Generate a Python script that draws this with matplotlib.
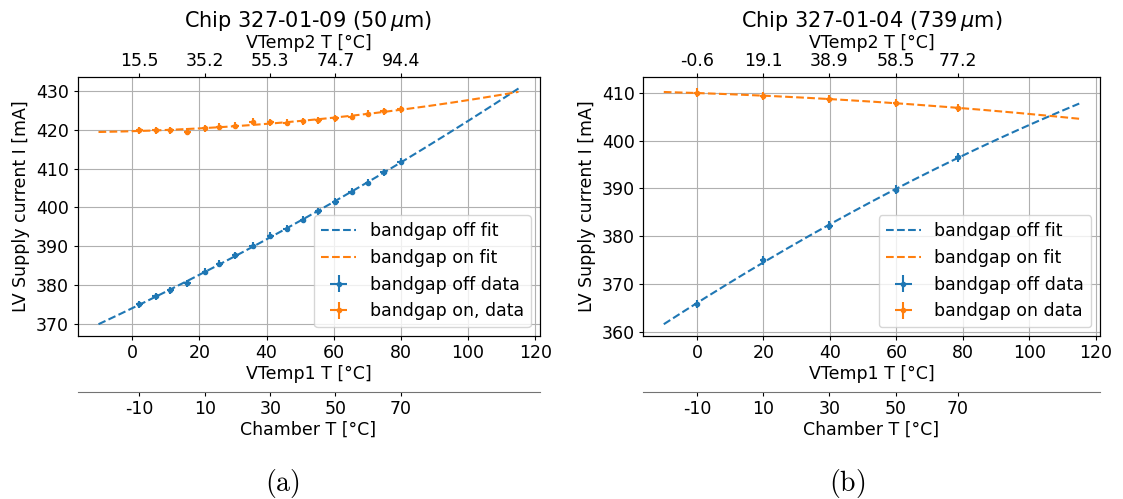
import numpy as np
import matplotlib
matplotlib.use("Agg")
import matplotlib.pyplot as plt

plt.rcParams['font.size'] = 12.5

# Chip 327-01-09 (50 um): VTemp1 [degC] and LV supply current [mA]
vtemp1_a = [2.1, 7.0, 11.4, 16.4, 21.7, 26.0, 30.7, 35.9, 41.1,
            46.0, 50.9, 55.4, 60.5, 65.4, 70.2, 74.9, 79.9]
bg_off_a = [375.0, 377.0, 378.6, 380.4, 383.4, 385.4, 387.7, 390.1, 392.7,
            394.5, 396.8, 399.0, 401.5, 404.0, 406.4, 409.1, 411.8]
bg_on_a = [420.0, 419.9, 419.9, 419.6, 420.5, 420.9, 421.1, 422.1, 422.0,
           421.9, 422.3, 422.5, 423.0, 423.4, 424.2, 424.9, 425.4]
vtemp2_labels_a = ['15.5', '35.2', '55.3', '74.7', '94.4']
tick_idx_a = [0, 4, 8, 12, 16]

# Chip 327-01-04 (739 um)
vtemp1_b = [0.0, 19.9, 39.8, 59.9, 78.5]
bg_off_b = [365.8, 374.9, 382.2, 389.7, 396.5]
bg_on_b = [410.0, 409.3, 408.7, 407.9, 406.8]
vtemp2_labels_b = ['-0.6', '19.1', '38.9', '58.5', '77.2']
tick_idx_b = [0, 1, 2, 3, 4]

chamber_labels = ['-10', '10', '30', '50', '70']
xerr = 1.0
yerr = 0.9
fit_range = (-10, 115)


def draw_panel(ax, x, off, on, top_labels, idx, title, on_label):
    xf = np.linspace(fit_range[0], fit_range[1], 200)
    p_off = np.polyfit(x, off, 2)
    p_on = np.polyfit(x, on, 2)
    ax.plot(xf, np.polyval(p_off, xf), '--', color='tab:blue', lw=1.5,
            label='bandgap off fit')
    ax.plot(xf, np.polyval(p_on, xf), '--', color='tab:orange', lw=1.5,
            label='bandgap on fit')
    ax.errorbar(x, off, xerr=xerr, yerr=yerr, fmt='.', ms=6,
                color='tab:blue', label='bandgap off data')
    ax.errorbar(x, on, xerr=xerr, yerr=yerr, fmt='.', ms=6,
                color='tab:orange', label=on_label)
    ax.grid(True)
    ax.set_xlabel('VTemp1 T [°C]', labelpad=2)
    ax.set_ylabel('LV Supply current I [mA]')
    ax.legend(loc='lower right')
    ax.tick_params(length=3, pad=3)

    pos = [x[i] for i in idx]

    top = ax.twiny()
    top.set_xlim(ax.get_xlim())
    top.set_xticks(pos)
    top.set_xticklabels(top_labels)
    top.set_xlabel('VTemp2 T [°C]', labelpad=3)
    top.tick_params(length=3, pad=2)

    ch = ax.twiny()
    ch.set_xlim(ax.get_xlim())
    ch.xaxis.set_ticks_position('bottom')
    ch.xaxis.set_label_position('bottom')
    ch.spines['bottom'].set_position(('outward', 40))
    ch.spines['bottom'].set_color('0.45')
    for s in ['top', 'left', 'right']:
        ch.spines[s].set_visible(False)
    ch.set_xticks(pos)
    ch.set_xticklabels(chamber_labels)
    ch.set_xlabel('Chamber T [°C]', labelpad=2)
    ch.tick_params(length=3, pad=3)

    ax.set_title(title, fontsize=15, pad=5)


fig = plt.figure(figsize=(11.23, 4.99), dpi=100)
W, H = 1123, 499
ax_a = fig.add_axes([77.5 / W, (H - 336) / H, 462 / W, 259.3 / H])
ax_b = fig.add_axes([643 / W, (H - 336) / H, 457 / W, 259.3 / H])

draw_panel(ax_a, vtemp1_a, bg_off_a, bg_on_a, vtemp2_labels_a, tick_idx_a,
           'Chip 327-01-09 (50$\\,\\mu$m)', 'bandgap on, data')
draw_panel(ax_b, vtemp1_b, bg_off_b, bg_on_b, vtemp2_labels_b, tick_idx_b,
           'Chip 327-01-04 (739$\\,\\mu$m)', 'bandgap on data')

fig.text(282 / W, 1 - 483 / H, r'$\mathrm{(a)}$', ha='center', va='center',
         fontsize=20, math_fontfamily='cm')
fig.text(847 / W, 1 - 483 / H, r'$\mathrm{(b)}$', ha='center', va='center',
         fontsize=20, math_fontfamily='cm')

fig.savefig('out.png', dpi=100)
